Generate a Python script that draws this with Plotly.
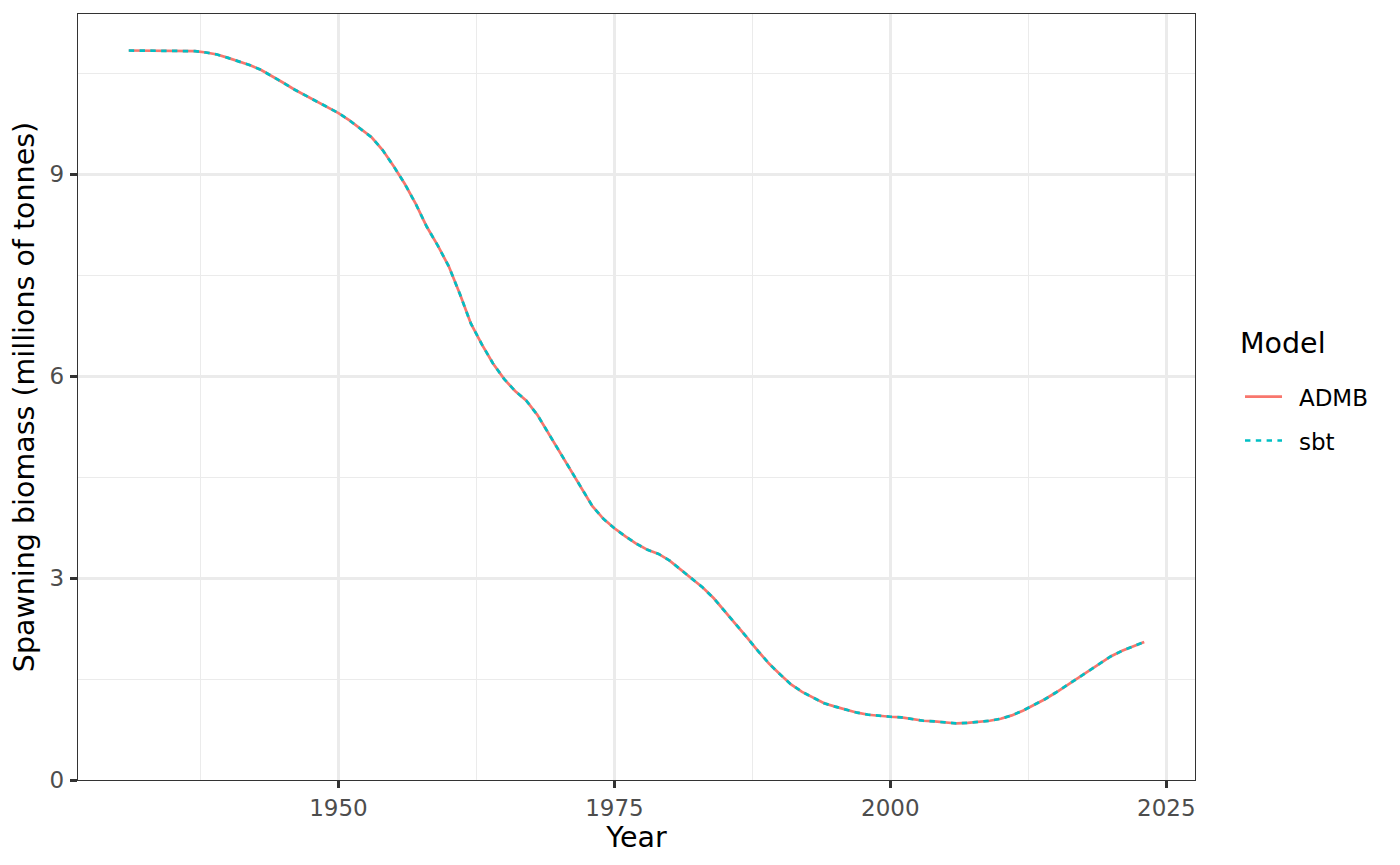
import plotly.graph_objects as go

years = list(range(1931, 2024))
admb = [10.84, 10.84, 10.84, 10.84, 10.84, 10.84, 10.83, 10.81, 10.78, 10.73,
        10.68, 10.62, 10.55, 10.46, 10.36, 10.26, 10.17, 10.09, 10.00, 9.91,
        9.80, 9.68, 9.55, 9.36, 9.12, 8.86, 8.56, 8.22, 7.94, 7.63,
        7.22, 6.78, 6.47, 6.19, 5.96, 5.78, 5.64, 5.43, 5.16, 4.88,
        4.60, 4.33, 4.07, 3.88, 3.74, 3.62, 3.51, 3.42, 3.36, 3.26,
        3.13, 3.00, 2.86, 2.70, 2.51, 2.32, 2.12, 1.92, 1.73, 1.57,
        1.42, 1.31, 1.22, 1.14, 1.09, 1.04, 1.00, 0.97, 0.95, 0.94,
        0.93, 0.90, 0.88, 0.87, 0.86, 0.84, 0.85, 0.86, 0.88, 0.91,
        0.96, 1.03, 1.11, 1.20, 1.30, 1.41, 1.52, 1.63, 1.74, 1.84,
        1.92, 1.99, 2.05]
sbt = list(admb)

x_ticks = [1950, 1975, 2000, 2025]
y_ticks = [0, 3, 6, 9]

FONT = "DejaVu Sans"
TICK_SIZE = 23
TITLE_SIZE = 28.5

fig = go.Figure()
fig.add_trace(go.Scatter(x=years, y=admb, mode="lines", name="\u00a0\u2009ADMB",
                         line=dict(color="#F8766D", width=2.7), legendgroup="a"))
fig.add_trace(go.Scatter(x=years, y=sbt, mode="lines", name="\u00a0\u2009sbt",
                         line=dict(color="#00BFC4", width=2.7, dash="5.4px,5.4px"),
                         legendgroup="b"))

axis_common = dict(
    showgrid=True, gridcolor="#EBEBEB", gridwidth=2.7,
    showline=True, linecolor="#333333", linewidth=1.3, mirror=True,
    ticks="outside", ticklen=7, tickwidth=2.7, tickcolor="#333333",
    tickfont=dict(family=FONT, size=TICK_SIZE, color="#4D4D4D"),
    zeroline=False,
)

fig.update_xaxes(**axis_common, range=[1926.4, 2027.6], tickvals=x_ticks,
                 minor=dict(dtick=12.5, tick0=1937.5, showgrid=True,
                            gridcolor="#EBEBEB", gridwidth=1.35, ticks=""),
                 title=dict(text="Year", font=dict(family=FONT, size=TITLE_SIZE, color="black"),
                            standoff=2),
                 ticklabelstandoff=0)
fig.update_yaxes(**axis_common, range=[0, 11.382], tickvals=y_ticks,
                 minor=dict(dtick=3, tick0=1.5, showgrid=True,
                            gridcolor="#EBEBEB", gridwidth=1.35, ticks=""),
                 title=dict(text="Spawning biomass (millions of tonnes)",
                            font=dict(family=FONT, size=TITLE_SIZE, color="black"),
                            standoff=6),
                 ticklabelstandoff=1)

fig.add_annotation(text="Model", xref="paper", yref="paper",
                   x=1.0403, y=0.5692, xanchor="left", yanchor="middle",
                   showarrow=False, xshift=-2,
                   font=dict(family=FONT, size=TITLE_SIZE, color="black"))

fig.update_layout(
    width=1392, height=857,
    margin=dict(l=70, r=205, t=6, b=85),
    paper_bgcolor="white", plot_bgcolor="white",
    font=dict(family=FONT),
    legend=dict(
        font=dict(family=FONT, size=TICK_SIZE, color="black"),
        x=1.0403, xanchor="left", y=0.5285, yanchor="top",
        tracegroupgap=11, itemwidth=37,
        bgcolor="rgba(0,0,0,0)",
    ),
)

fig.write_html("out.html")
